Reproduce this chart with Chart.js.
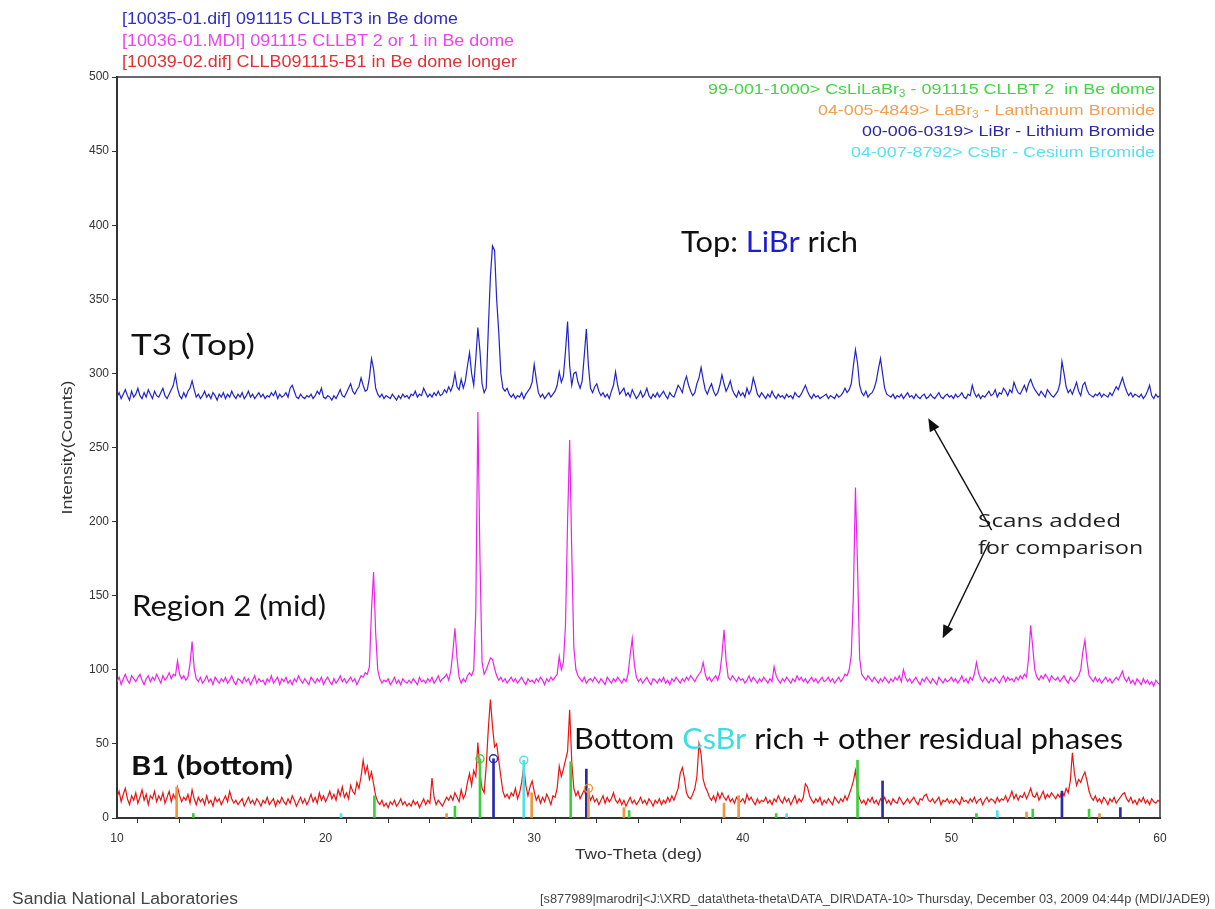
<!DOCTYPE html>
<html>
<head>
<meta charset="utf-8">
<title>XRD scans – CLLB boule regions</title>
<script src="https://cdn.jsdelivr.net/npm/chart.js@4.4.1/dist/chart.umd.min.js"></script>
<style>
  html, body { margin: 0; padding: 0; background: #ffffff; }
  #wrap { width: 1215px; height: 909px; position: relative; }
</style>
</head>
<body>
<div id="wrap"><canvas id="c" width="1215" height="909"></canvas></div>
<script>
// Scan grid: two-theta from 10 to 60 deg in 0.1 deg steps
const twoThetaStart = 10;
const twoThetaStep = 0.1;

// [10035-01.dif] T3 (top of boule)
const scanT3 = [
  284,287,283,286,289,285,282,288,284,286,
  290,285,283,287,284,289,286,283,288,285,
  284,287,290,285,283,286,289,292,299,290,
  285,283,287,284,288,290,295,289,284,286,
  283,285,288,284,286,283,287,285,282,286,
  284,287,283,286,284,288,285,283,286,284,
  287,283,285,288,284,286,283,285,287,284,
  286,283,285,284,287,285,288,283,286,284,
  285,287,284,290,292,288,284,283,286,284,
  283,285,284,286,283,285,288,286,290,284,
  283,285,284,282,285,283,286,289,285,284,
  287,290,293,288,286,289,291,297,292,288,
  289,297,310,303,290,286,284,286,283,285,
  284,283,286,284,282,285,283,286,284,285,
  283,286,285,288,284,286,285,290,287,284,
  286,284,287,285,288,285,286,289,287,291,
  288,292,300,291,289,296,290,295,305,314,
  300,292,310,331,315,293,287,290,330,365,
  386,383,350,328,300,290,288,290,286,284,
  286,283,285,284,287,283,286,288,290,294,
  306,296,287,284,286,283,285,287,284,286,
  288,292,301,294,298,315,335,305,292,300,
  301,294,290,295,312,330,305,290,287,291,
  293,288,285,287,284,286,283,288,292,301,
  292,286,288,290,285,287,284,289,286,283,
  285,288,284,286,290,285,283,286,284,287,
  284,286,288,285,283,287,285,284,288,292,
  290,287,294,298,292,288,285,287,293,297,
  304,296,289,286,290,293,288,285,287,292,
  299,293,288,291,295,289,286,284,288,285,
  287,284,290,286,289,297,292,286,284,287,
  285,283,286,284,288,285,283,286,284,285,
  283,286,284,285,283,287,285,284,286,289,
  292,288,285,283,286,284,285,283,284,285,
  286,283,285,284,283,286,284,285,287,290,
  287,289,293,305,316,307,292,287,285,288,
  284,286,287,290,295,303,310,300,290,286,
  285,284,286,283,285,284,286,283,285,287,
  284,285,283,286,284,283,285,286,283,284,
  286,284,283,285,287,284,283,285,286,284,
  285,283,286,284,285,287,284,283,286,285,
  292,287,284,286,283,285,284,286,288,285,
  286,289,284,287,286,290,288,285,289,287,
  294,290,287,286,289,292,288,293,296,292,
  289,287,285,288,286,284,289,287,285,284,
  286,288,293,308,300,291,287,289,286,290,
  294,288,285,292,294,289,286,285,284,286,
  285,287,284,286,285,284,287,285,288,291,
  289,293,297,292,288,285,287,284,286,285,
  284,286,283,285,288,292,285,283,286,284,
  285
];

// [10036-01.MDI] Region 2 (middle of boule)
const scanRegion2 = [
  92,95,90,94,97,93,91,96,94,92,
  95,97,93,90,94,96,92,95,93,97,
  94,91,96,93,95,98,94,97,96,106,
  97,94,96,93,95,104,119,101,94,92,
  95,91,93,96,92,94,90,95,93,91,
  94,92,95,91,93,96,92,90,94,93,
  91,95,92,94,90,93,96,91,94,92,
  93,90,94,92,96,91,93,95,90,94,
  92,95,91,93,90,94,92,96,93,91,
  94,92,90,95,93,91,94,92,95,90,
  93,95,92,90,94,91,93,96,92,94,
  91,93,95,92,94,90,93,96,95,98,
  97,102,140,166,125,100,94,91,93,92,
  94,90,92,95,91,93,90,94,92,91,
  93,91,94,92,90,95,92,93,91,94,
  92,95,91,93,96,92,94,95,97,93,
  99,112,128,108,95,91,94,92,96,98,
  96,100,140,274,175,105,97,100,104,108,
  107,101,96,93,95,92,94,91,93,95,
  92,94,91,93,95,92,90,94,92,93,
  91,94,92,95,93,90,94,92,95,93,
  95,97,109,100,105,130,200,255,180,115,
  100,96,94,92,95,91,93,94,92,95,
  93,91,94,92,90,95,93,91,94,92,
  95,93,91,94,92,97,110,121,104,95,
  92,94,91,93,95,92,90,94,93,91,
  94,92,95,91,93,90,94,92,95,93,
  91,94,92,95,93,96,94,92,95,97,
  99,105,97,93,95,92,94,96,93,98,
  110,127,106,95,93,96,94,92,95,93,
  94,91,93,96,92,95,93,91,94,92,
  95,93,91,94,92,102,96,93,91,94,
  92,95,93,91,94,92,96,93,95,92,
  94,91,93,95,92,94,91,93,95,92,
  93,95,92,94,91,93,95,92,94,97,
  96,100,110,150,223,170,108,97,95,93,
  96,94,92,95,93,91,94,92,95,93,
  91,94,92,95,93,96,92,100,95,92,
  94,91,93,95,92,90,94,92,95,93,
  91,94,92,90,95,93,91,94,92,93,
  95,92,94,91,93,96,92,94,91,95,
  93,97,105,98,94,92,95,93,91,94,
  92,95,93,91,94,96,92,95,93,94,
  92,95,93,96,94,97,95,108,130,115,
  100,95,93,96,94,97,95,92,96,94,
  93,95,92,94,96,93,91,95,93,92,
  94,96,100,112,120,106,96,94,92,95,
  92,94,91,93,95,92,94,91,93,95,
  93,96,99,94,92,95,91,93,90,94,
  92,90,94,91,93,90,92,89,93,91,
  90
];

// [10039-02.dif] B1 (bottom of boule, longer count)
const scanB1 = [
  14,18,11,16,20,13,9,15,12,17,
  10,14,19,12,16,9,15,13,18,11,
  15,12,17,10,14,18,11,16,13,21,
  15,11,14,12,16,10,19,13,9,14,
  11,13,9,15,10,12,8,14,11,13,
  9,12,15,11,18,13,10,12,9,11,
  13,8,11,14,10,12,9,13,11,8,
  12,10,14,9,11,13,8,12,10,14,
  11,9,13,10,15,12,8,11,14,10,
  13,9,12,16,11,14,10,17,12,15,
  11,14,18,13,16,12,19,15,21,14,
  17,13,22,18,16,24,20,28,39,30,
  35,26,31,23,15,11,9,12,8,10,
  7,11,9,12,8,10,13,9,11,8,
  10,8,12,9,11,7,10,13,9,12,
  10,27,14,9,12,10,8,11,14,12,
  15,12,17,14,11,19,13,16,24,30,
  22,32,28,51,30,20,17,35,60,80,
  62,48,50,39,28,18,14,16,13,17,
  15,20,13,17,24,35,22,15,21,25,
  18,12,15,10,14,11,16,13,9,15,
  14,20,35,28,33,39,45,73,38,20,
  15,18,13,16,19,14,17,12,15,11,
  13,9,12,15,10,14,11,13,17,12,
  10,13,9,12,8,11,14,10,12,9,
  11,14,10,12,9,13,11,8,12,10,
  13,9,12,10,14,11,15,12,16,20,
  30,34,27,17,14,13,16,20,28,50,
  43,26,21,18,14,12,15,11,17,13,
  17,14,12,15,11,13,10,14,12,11,
  13,10,16,12,14,11,9,13,10,12,
  11,14,10,12,9,13,11,15,12,10,
  14,11,13,9,12,15,10,13,11,14,
  23,21,15,12,10,13,11,14,9,12,
  10,13,11,9,14,12,10,13,11,15,
  12,16,20,25,32,18,13,10,12,9,
  13,11,14,10,12,9,13,11,14,10,
  12,9,13,11,10,14,12,9,11,13,
  10,12,14,11,9,13,12,15,16,12,
  11,13,10,12,14,9,12,11,13,10,
  12,10,13,11,9,14,11,12,10,13,
  11,14,10,12,13,9,12,14,11,13,
  12,10,14,11,13,12,15,11,14,18,
  13,16,12,15,14,17,13,16,20,15,
  14,17,12,15,18,13,16,14,17,15,
  13,16,14,18,15,20,17,25,44,30,
  22,26,24,28,31,25,18,14,12,15,
  11,13,10,14,12,9,13,11,14,10,
  12,14,16,17,13,11,14,10,12,9,
  13,11,14,10,12,9,13,11,10,12,
  11
];

// Reference-pattern line positions (deg) and stick heights (counts)
const cslilabr3Pos = [13.66, 22.34, 26.2, 27.4, 31.75, 34.55, 41.6, 45.5, 51.2, 53.9, 56.6];
const cslilabr3Int = [3, 15, 8, 40, 38, 5, 3, 39, 3, 6, 6];
const labr3Pos = [12.86, 25.8, 29.88, 32.6, 34.3, 39.1, 39.8, 53.6, 57.1];
const labr3Int = [21, 3, 17, 20, 7, 10, 15, 4, 3];
const librPos = [28.05, 32.5, 46.7, 55.3, 58.1];
const librInt = [40, 33, 25, 18, 7];
const csbrPos = [20.74, 29.5, 42.1, 52.2];
const csbrInt = [3, 39, 3, 5];
// index of the line flagged with a circle in each pattern
const cslilabr3Flag = 3;
const labr3Flag = 3;
const librFlag = 0;
const csbrFlag = 1;

// Axis ticks
const xTickStep = 2;
const xLabelEvery = 10;
const yTickStep = 50;

// ---------------------------------------------------------------
const COL = {
  t3: '#2323c8',
  r2: '#ee22ee',
  b1: '#e81414',
  green: '#3ccf3c',
  orange: '#f0963c',
  navy: '#2a2aa8',
  cyan: '#4fe0ea'
};

function toPoints(values) {
  return values.map((v, i) => ({ x: +(twoThetaStart + i * twoThetaStep).toFixed(2), y: v }));
}
function sticks(pos, ints) {
  return pos.map((p, i) => ({ x: p, y: ints[i] }));
}

const lineStyle = { pointRadius: 0, borderWidth: 1.2, tension: 0, fill: false };
const barStyle = { type: 'bar', barThickness: 2, grouped: false, borderWidth: 0, order: 0 };

const flagPoints = [
  { x: cslilabr3Pos[cslilabr3Flag], y: cslilabr3Int[cslilabr3Flag], c: COL.green },
  { x: librPos[librFlag], y: librInt[librFlag], c: COL.navy },
  { x: csbrPos[csbrFlag], y: csbrInt[csbrFlag], c: COL.cyan },
  { x: labr3Pos[labr3Flag], y: labr3Int[labr3Flag], c: COL.orange }
];

const datasets = [
  Object.assign({ label: 'CsLiLaBr3', data: sticks(cslilabr3Pos, cslilabr3Int), backgroundColor: COL.green }, barStyle),
  Object.assign({ label: 'LaBr3', data: sticks(labr3Pos, labr3Int), backgroundColor: COL.orange }, barStyle),
  Object.assign({ label: 'LiBr', data: sticks(librPos, librInt), backgroundColor: COL.navy }, barStyle),
  Object.assign({ label: 'CsBr', data: sticks(csbrPos, csbrInt), backgroundColor: COL.cyan }, barStyle),
  {
    type: 'scatter', label: 'flags', data: flagPoints.map(p => ({ x: p.x, y: p.y })),
    pointStyle: 'circle', pointRadius: 4, pointBorderWidth: 1.4,
    pointBorderColor: flagPoints.map(p => p.c), pointBackgroundColor: 'rgba(255,255,255,0)',
    showLine: false, order: -1
  },
  Object.assign({ label: 'B1', data: toPoints(scanB1), borderColor: COL.b1, order: 1 }, lineStyle),
  Object.assign({ label: 'Region 2', data: toPoints(scanRegion2), borderColor: COL.r2, order: 2 }, lineStyle),
  Object.assign({ label: 'T3', data: toPoints(scanT3), borderColor: COL.t3, order: 3 }, lineStyle)
];

// ---------------------------------------------------------------
// text helpers: runs of coloured text squeezed to a given width
function drawRuns(ctx, runs, x, y, width, align, baseFont, subFont) {
  let total = 0;
  const widths = runs.map(r => {
    ctx.font = r.sub ? subFont : baseFont;
    const w = ctx.measureText(r.t).width;
    total += w;
    return w;
  });
  const s = width ? width / total : 1;
  let x0 = x;
  if (align === 'right') x0 = x - total * s;
  else if (align === 'center') x0 = x - total * s / 2;
  ctx.save();
  ctx.translate(x0, y);
  ctx.scale(s, 1);
  ctx.textBaseline = 'middle';
  ctx.textAlign = 'left';
  let cx = 0;
  runs.forEach((r, i) => {
    ctx.font = r.sub ? subFont : baseFont;
    ctx.fillStyle = r.c;
    ctx.fillText(r.t, cx, r.sub ? 4 : 0);
    cx += widths[i];
  });
  ctx.restore();
}

function arrow(ctx, x1, y1, x2, y2) {
  const ang = Math.atan2(y2 - y1, x2 - x1);
  const L = 13, W = 5.5;
  ctx.save();
  ctx.strokeStyle = '#111';
  ctx.fillStyle = '#111';
  ctx.lineWidth = 1.4;
  ctx.beginPath();
  ctx.moveTo(x1, y1);
  ctx.lineTo(x2 - Math.cos(ang) * L * 0.8, y2 - Math.sin(ang) * L * 0.8);
  ctx.stroke();
  ctx.beginPath();
  ctx.moveTo(x2, y2);
  ctx.lineTo(x2 - Math.cos(ang) * L + Math.sin(ang) * W, y2 - Math.sin(ang) * L - Math.cos(ang) * W);
  ctx.lineTo(x2 - Math.cos(ang) * L - Math.sin(ang) * W, y2 - Math.sin(ang) * L + Math.cos(ang) * W);
  ctx.closePath();
  ctx.fill();
  ctx.restore();
}

// in-plot notes, anchored in data units (deg, counts)
const notes = [
  { runs: [{ t: 'T3 (Top)', c: '#111' }], deg: 10.67, cnt: 318.5, width: 124, font: '28px Lato' },
  { runs: [{ t: 'Top: ', c: '#111' }, { t: 'LiBr', c: '#1c1cd0' }, { t: ' rich', c: '#111' }], deg: 37.04, cnt: 388, width: 177, font: '28px Lato' },
  { runs: [{ t: 'Region 2 (mid)', c: '#111' }], deg: 10.72, cnt: 142.4, width: 194, font: '28px Lato' },
  { runs: [{ t: 'B1 (bottom)', c: '#111' }], deg: 10.67, cnt: 35.1, width: 162, font: 'bold 27px Lato' },
  { runs: [{ t: 'Bottom ', c: '#111' }, { t: 'CsBr', c: '#3fdde2' }, { t: ' rich + other residual phases', c: '#111' }], deg: 31.91, cnt: 52.6, width: 549, font: '28px Lato' },
  { runs: [{ t: 'Scans added', c: '#222' }], deg: 51.28, cnt: 199.7, width: 143, font: '19px "Open Sans"' },
  { runs: [{ t: 'for comparison', c: '#222' }], deg: 51.28, cnt: 181.5, width: 165, font: '19px "Open Sans"' }
];
const arrows = [
  { from: [51.93, 194.3], to: [48.89, 269.7] },
  { from: [51.82, 186.4], to: [49.58, 121.3] }
];

const scanLegend = [
  { runs: [{ t: '[10035-01.dif] 091115 CLLBT3 in Be dome', c: '#2e2ec4' }], width: 336 },
  { runs: [{ t: '[10036-01.MDI] 091115 CLLBT 2 or 1 in Be dome', c: '#ee44ee' }], width: 392 },
  { runs: [{ t: '[10039-02.dif] CLLB091115-B1 in Be dome longer', c: '#e03232' }], width: 395 }
];
const patternLegend = [
  { runs: [{ t: '99-001-1000> CsLiLaBr', c: '#44d444' }, { t: '3', c: '#44d444', sub: true }, { t: ' - 091115 CLLBT 2  in Be dome', c: '#44d444' }], width: 447 },
  { runs: [{ t: '04-005-4849> LaBr', c: '#f0a050' }, { t: '3', c: '#f0a050', sub: true }, { t: ' - Lanthanum Bromide', c: '#f0a050' }], width: 337 },
  { runs: [{ t: '00-006-0319> LiBr - Lithium Bromide', c: '#2a2aa4' }], width: 293 },
  { runs: [{ t: '04-007-8792> CsBr - Cesium Bromide', c: '#55e2ee' }], width: 304 }
];

const decorations = {
  id: 'decorations',
  afterDraw(chart) {
    const ctx = chart.ctx;
    const a = chart.chartArea;
    const xs = chart.scales.x, ys = chart.scales.y;

    // frame on top and right
    ctx.save();
    ctx.strokeStyle = '#3a3a3a';
    ctx.lineWidth = 1.5;
    ctx.beginPath();
    ctx.moveTo(a.left, a.top);
    ctx.lineTo(a.right, a.top);
    ctx.lineTo(a.right, a.bottom);
    ctx.stroke();
    ctx.restore();

    // scan legend (top-left, above the plot)
    scanLegend.forEach((l, i) => {
      drawRuns(ctx, l.runs, a.left + 5, a.top - 57 + i * 21.5, l.width, 'left', '16px "Liberation Sans"', '11px "Liberation Sans"');
    });
    // reference-pattern legend (top-right, inside the plot)
    patternLegend.forEach((l, i) => {
      drawRuns(ctx, l.runs, a.right - 5, a.top + 13 + i * 21, l.width, 'right', '15px "Liberation Sans"', '10px "Liberation Sans"');
    });

    // axis titles
    ctx.save();
    ctx.translate(a.left - 49, (a.top + a.bottom) / 2);
    ctx.rotate(-Math.PI / 2);
    drawRuns(ctx, [{ t: 'Intensity(Counts)', c: '#333' }], 0, 0, 134, 'center', '15px "Liberation Sans"', '');
    ctx.restore();
    drawRuns(ctx, [{ t: 'Two-Theta (deg)', c: '#333' }], (a.left + a.right) / 2, a.bottom + 37, 127, 'center', '15px "Liberation Sans"', '');

    // notes and arrows
    notes.forEach(n => {
      drawRuns(ctx, n.runs, xs.getPixelForValue(n.deg), ys.getPixelForValue(n.cnt), n.width, 'left', n.font, n.font);
    });
    arrows.forEach(r => {
      arrow(ctx, xs.getPixelForValue(r.from[0]), ys.getPixelForValue(r.from[1]),
                 xs.getPixelForValue(r.to[0]), ys.getPixelForValue(r.to[1]));
    });

    // footer
    const H = chart.height, W = chart.width;
    drawRuns(ctx, [{ t: 'Sandia National Laboratories', c: '#444' }], 12, H - 9, 226, 'left', '16px "Liberation Sans"', '');
    drawRuns(ctx, [{ t: '[s877989|marodri]<J:\\XRD_data\\theta-theta\\DATA_DIR\\DATA-10> Thursday, December 03, 2009 04:44p (MDI/JADE9)', c: '#444' }],
      W - 5, H - 9, 670, 'right', '12px "Liberation Sans"', '');
  }
};

const tickFont = { family: 'Liberation Sans', size: 12 };

new Chart(document.getElementById('c'), {
  type: 'line',
  data: { datasets },
  options: {
    responsive: false,
    animation: false,
    devicePixelRatio: 1,
    layout: { padding: { top: 77, right: 55, left: 0, bottom: 0 } },
    plugins: { legend: { display: false }, tooltip: { enabled: false } },
    scales: {
      x: {
        type: 'linear', min: 10, max: 60, offset: false,
        afterFit: s => { s.height = 91; },
        ticks: {
          stepSize: xTickStep, autoSkip: false, maxRotation: 0, minRotation: 0,
          font: tickFont, color: '#333', padding: 8,
          callback: v => (Math.abs(v % xLabelEvery) < 1e-6 ? String(v) : '')
        },
        grid: { drawOnChartArea: false, drawTicks: true, tickLength: 5, color: '#333', lineWidth: 1 },
        border: { display: true, color: '#333', width: 2 }
      },
      y: {
        type: 'linear', min: 0, max: 500,
        afterFit: s => { s.width = 117; },
        ticks: { stepSize: yTickStep, font: tickFont, color: '#333', padding: 3 },
        grid: { drawOnChartArea: false, drawTicks: true, tickLength: 5, color: '#333', lineWidth: 1 },
        border: { display: true, color: '#333', width: 2 }
      }
    }
  },
  plugins: [decorations]
});
</script>
</body>
</html>
